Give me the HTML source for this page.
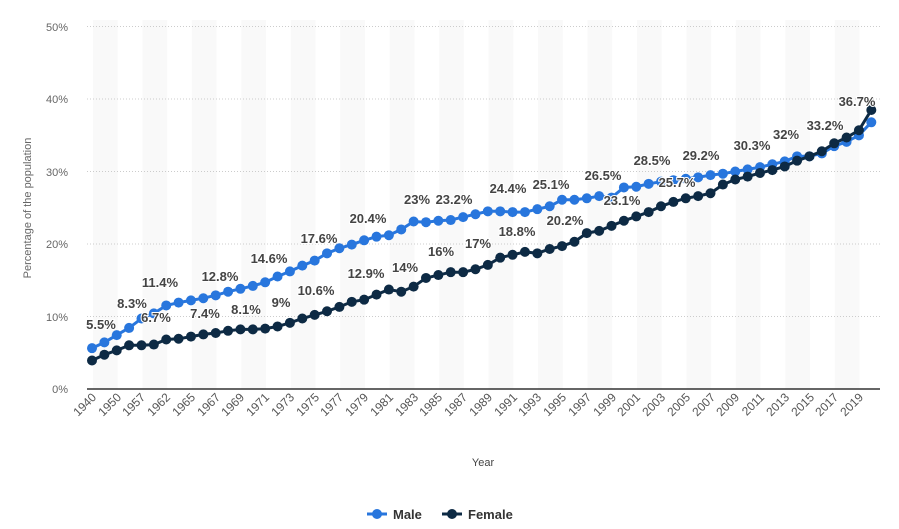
<!DOCTYPE html>
<html><head><meta charset="utf-8"><style>
html,body{margin:0;padding:0;background:#fff;}
svg{display:block;font-family:"Liberation Sans","DejaVu Sans",sans-serif;}
.dl{font-size:13px;font-weight:bold;fill:#444;stroke:#fff;stroke-width:2px;paint-order:stroke;text-anchor:middle;}
.yt{font-size:11px;fill:#666;text-anchor:end;}
.xt{font-size:12px;fill:#555;text-anchor:end;}
</style></head><body>
<svg id="c" width="899" height="529" viewBox="0 0 899 529">
<g id="bands"></g>
<g stroke="#ccc" stroke-dasharray="1,2" stroke-width="1">
<line x1="87" x2="880" y1="26.5" y2="26.5"/><line x1="87" x2="880" y1="99" y2="99"/>
<line x1="87" x2="880" y1="171.5" y2="171.5"/><line x1="87" x2="880" y1="244" y2="244"/>
<line x1="87" x2="880" y1="316.5" y2="316.5"/>
</g>
<line x1="87" x2="880" y1="389" y2="389" stroke="#333" stroke-width="1.5"/>
<text class="yt" x="68" y="31">50%</text><text class="yt" x="68" y="103">40%</text>
<text class="yt" x="68" y="176">30%</text><text class="yt" x="68" y="248">20%</text>
<text class="yt" x="68" y="321">10%</text><text class="yt" x="68" y="393">0%</text>
<text x="31" y="208" font-size="11" fill="#666" text-anchor="middle" transform="rotate(-90 31 208)">Percentage of the population</text>
<text x="483" y="466" font-size="11" fill="#444" text-anchor="middle">Year</text>
<g id="series"></g>
<g>
<text class="dl" x="101" y="329">5.5%</text><text class="dl" x="132" y="308">8.3%</text>
<text class="dl" x="160" y="287">11.4%</text><text class="dl" x="220" y="281">12.8%</text>
<text class="dl" x="269" y="263">14.6%</text><text class="dl" x="319" y="243">17.6%</text>
<text class="dl" x="368" y="223">20.4%</text><text class="dl" x="417" y="204">23%</text>
<text class="dl" x="454" y="204">23.2%</text><text class="dl" x="508" y="193">24.4%</text>
<text class="dl" x="551" y="189">25.1%</text><text class="dl" x="603" y="180">26.5%</text>
<text class="dl" x="652" y="165">28.5%</text><text class="dl" x="701" y="160">29.2%</text>
<text class="dl" x="752" y="150">30.3%</text><text class="dl" x="786" y="139">32%</text>
<text class="dl" x="825" y="130">33.2%</text><text class="dl" x="857" y="106">36.7%</text>
<text class="dl" x="156" y="322">6.7%</text><text class="dl" x="205" y="318">7.4%</text>
<text class="dl" x="246" y="314">8.1%</text><text class="dl" x="281" y="307">9%</text>
<text class="dl" x="316" y="295">10.6%</text><text class="dl" x="366" y="278">12.9%</text>
<text class="dl" x="405" y="272">14%</text><text class="dl" x="441" y="256">16%</text>
<text class="dl" x="478" y="248">17%</text><text class="dl" x="517" y="236">18.8%</text>
<text class="dl" x="565" y="225">20.2%</text><text class="dl" x="622" y="205">23.1%</text>
<text class="dl" x="677" y="187">25.7%</text>
</g>
<g>
<line x1="367" x2="387" y1="514" y2="514" stroke="#2876dd" stroke-width="3"/><circle cx="377" cy="514" r="5" fill="#2876dd"/>
<text x="393" y="519" font-size="13" font-weight="bold" fill="#333">Male</text>
<line x1="442" x2="462" y1="514" y2="514" stroke="#0d2a44" stroke-width="3"/><circle cx="452" cy="514" r="5" fill="#0d2a44"/>
<text x="468" y="519" font-size="13" font-weight="bold" fill="#333">Female</text>
</g>
<g class="xtl">
<text class="xt" transform="translate(97 398) rotate(-45)">1940</text>
<text class="xt" transform="translate(122 398) rotate(-45)">1950</text>
<text class="xt" transform="translate(146 398) rotate(-45)">1957</text>
<text class="xt" transform="translate(171 398) rotate(-45)">1962</text>
<text class="xt" transform="translate(196 398) rotate(-45)">1965</text>
<text class="xt" transform="translate(221 398) rotate(-45)">1967</text>
<text class="xt" transform="translate(245 398) rotate(-45)">1969</text>
<text class="xt" transform="translate(270 398) rotate(-45)">1971</text>
<text class="xt" transform="translate(295 398) rotate(-45)">1973</text>
<text class="xt" transform="translate(320 398) rotate(-45)">1975</text>
<text class="xt" transform="translate(344 398) rotate(-45)">1977</text>
<text class="xt" transform="translate(369 398) rotate(-45)">1979</text>
<text class="xt" transform="translate(394 398) rotate(-45)">1981</text>
<text class="xt" transform="translate(419 398) rotate(-45)">1983</text>
<text class="xt" transform="translate(443 398) rotate(-45)">1985</text>
<text class="xt" transform="translate(468 398) rotate(-45)">1987</text>
<text class="xt" transform="translate(493 398) rotate(-45)">1989</text>
<text class="xt" transform="translate(518 398) rotate(-45)">1991</text>
<text class="xt" transform="translate(542 398) rotate(-45)">1993</text>
<text class="xt" transform="translate(567 398) rotate(-45)">1995</text>
<text class="xt" transform="translate(592 398) rotate(-45)">1997</text>
<text class="xt" transform="translate(617 398) rotate(-45)">1999</text>
<text class="xt" transform="translate(641 398) rotate(-45)">2001</text>
<text class="xt" transform="translate(666 398) rotate(-45)">2003</text>
<text class="xt" transform="translate(691 398) rotate(-45)">2005</text>
<text class="xt" transform="translate(716 398) rotate(-45)">2007</text>
<text class="xt" transform="translate(740 398) rotate(-45)">2009</text>
<text class="xt" transform="translate(765 398) rotate(-45)">2011</text>
<text class="xt" transform="translate(790 398) rotate(-45)">2013</text>
<text class="xt" transform="translate(815 398) rotate(-45)">2015</text>
<text class="xt" transform="translate(839 398) rotate(-45)">2017</text>
<text class="xt" transform="translate(864 398) rotate(-45)">2019</text>
</g>
</svg>
<script>
var NS="http://www.w3.org/2000/svg";
function el(t,a,p){var e=document.createElementNS(NS,t);for(var k in a)e.setAttribute(k,a[k]);p.appendChild(e);return e;}
var b=document.getElementById("bands");
for(var k=0;k<16;k++){el("rect",{x:93+49.45*k,y:20,width:24.7,height:369,fill:"#f9f9f9"},b);}
var M=[5.5,6.3,7.3,8.3,9.6,10.3,11.4,11.8,12.1,12.4,12.8,13.3,13.7,14.1,14.6,15.4,16.1,16.9,17.6,18.6,19.3,19.8,20.4,20.9,21.1,21.9,23.0,22.9,23.1,23.2,23.6,24.0,24.4,24.4,24.3,24.3,24.7,25.1,26.0,26.0,26.2,26.5,26.3,27.7,27.8,28.2,28.5,28.7,28.9,29.1,29.4,29.6,29.9,30.2,30.5,30.9,31.3,32.0,32.0,32.4,33.4,34.0,34.9,36.7];
var F=[3.8,4.6,5.2,5.9,5.9,6.0,6.7,6.8,7.1,7.4,7.6,7.9,8.1,8.1,8.2,8.5,9.0,9.6,10.1,10.6,11.2,11.9,12.2,12.9,13.6,13.3,14.0,15.2,15.6,16.0,16.0,16.4,17.0,18.0,18.4,18.8,18.6,19.2,19.6,20.2,21.4,21.7,22.4,23.1,23.7,24.3,25.1,25.7,26.2,26.5,26.9,28.1,28.8,29.2,29.7,30.1,30.6,31.4,32.0,32.7,33.8,34.6,35.6,38.4];
var s=document.getElementById("series");
function X(i){return 92+i*12.37;}function Y(v){return 388-7.24*v;}
function draw(d,c){var p="";d.forEach(function(v,i){p+=(i?"L":"M")+X(i).toFixed(1)+" "+Y(v).toFixed(1);});
el("path",{d:p,fill:"none",stroke:c,"stroke-width":3},s);
d.forEach(function(v,i){el("circle",{cx:X(i),cy:Y(v),r:5,fill:c},s);});}
draw(M,"#2876dd");draw(F,"#0d2a44");
</script>
</body></html>
